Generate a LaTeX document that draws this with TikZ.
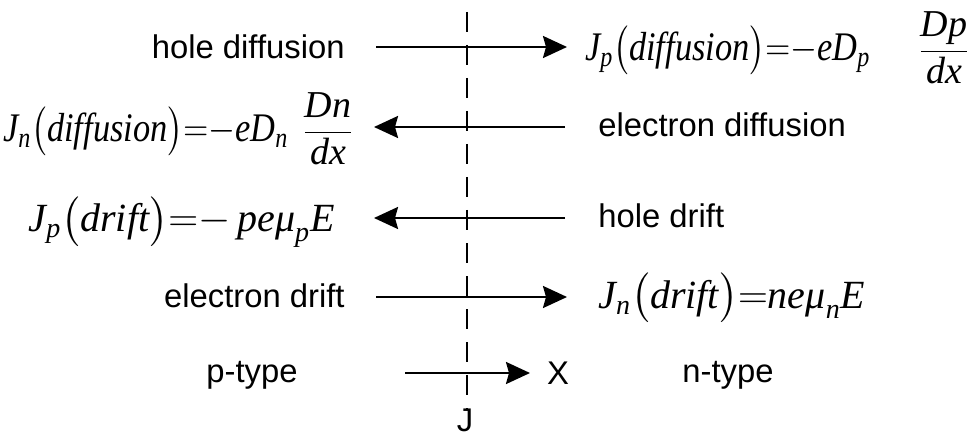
\documentclass[tikz,border=0pt]{standalone}
\usepackage{amsmath}
\usepackage{graphicx}
\usepackage{fontspec}
\setmainfont{Liberation Sans}
\newfontfamily\tms{Liberation Serif}
\usepackage{tikz}
\usetikzlibrary{arrows.meta}
\newcommand{\ivar}[1]{\text{\tms\itshape #1}}
\newcommand{\ivarbig}[1]{\text{\fontsize{19}{22}\selectfont\tms\itshape #1}}
\newcommand{\tallpart}[1]{\scalebox{1}[1.18]{$#1$}}

\begin{document}
\begin{tikzpicture}[
    x=0.5pt, y=-0.5pt,
    lbl/.style={font=\fontsize{16.4}{19}\selectfont, inner sep=0pt},
    eqn/.style={font=\fontsize{#1}{23}\selectfont, inner sep=0pt},
    arr/.style={-{Stealth[length=12pt, width=11pt, inset=1.5pt]}, line width=1.2pt},
    junction/.style={dash pattern=on 10pt off 6.5pt, line width=1.4pt}
]
    \useasboundingbox (0,0) rectangle (973,438);

    % Junction
    \node[lbl] (jlbl) at (465,420) {J};
    \coordinate (jtop) at (467,12);
    \draw[junction] (jtop) -- (jlbl.north -| jtop);

    % Hole diffusion
    \node[lbl, anchor=east] (holediff) at (345,47) {hole diffusion};
    \coordinate (hd-a) at (376,47); \coordinate (hd-b) at (567,47);
    \node[eqn=17.2, anchor=east] (jpdiff) at (970,48)
        {$\tallpart{\ivar{J}_{\ivar{p}}\big(\ivar{diffusion}\big){=}{-}\ivar{eD}_{\ivar{p}}}\hspace{24pt}\dfrac{\ivarbig{Dp}}{\ivarbig{dx}}$};
    \draw[arr] (hd-a) -- (hd-b);

    % Electron diffusion
    \node[lbl, anchor=west] (elecdiff) at (598,125) {electron diffusion};
    \coordinate (ed-a) at (565,127); \coordinate (ed-b) at (374,127);
    \node[eqn=17.2, anchor=east] (jndiff) at (354,129)
        {$\tallpart{\ivar{J}_{\ivar{n}}\big(\ivar{diffusion}\big){=}{-}\ivar{eD}_{\ivar{n}}}\hspace{7pt}\dfrac{\ivarbig{Dn}}{\ivarbig{dx}}$};
    \draw[arr] (ed-a) -- (ed-b);

    % Hole drift
    \node[lbl, anchor=west] (holedrift) at (598,216) {hole drift};
    \coordinate (hr-a) at (565,218); \coordinate (hr-b) at (374,218);
    \node[eqn=20, anchor=east] (jpdrift) at (335,222)
        {$\ivar{J}_{\ivar{p}}\big(\ivar{drift}\big){=}{-}\,\ivar{pe\char"03BC}_{\ivar{p}}\ivar{E}$};
    \draw[arr] (hr-a) -- (hr-b);

    % Electron drift
    \node[lbl, anchor=east] (elecdrift) at (345,296) {electron drift};
    \coordinate (er-a) at (376,297); \coordinate (er-b) at (567,297);
    \node[eqn=20, anchor=west] (jndrift) at (598,298)
        {$\ivar{J}_{\ivar{n}}\big(\ivar{drift}\big){=}\ivar{ne\char"03BC}_{\ivar{n}}\ivar{E}$};
    \draw[arr] (er-a) -- (er-b);

    % Axis
    \node[lbl] (ptype) at (252,375) {p-type};
    \node[lbl] (ntype) at (728,375) {n-type};
    \node[lbl] (xlbl) at (558,373) {X};
    \coordinate (x-a) at (405,373); \coordinate (x-b) at (530,373);
    \draw[arr] (x-a) -- (x-b);
\end{tikzpicture}
\end{document}
